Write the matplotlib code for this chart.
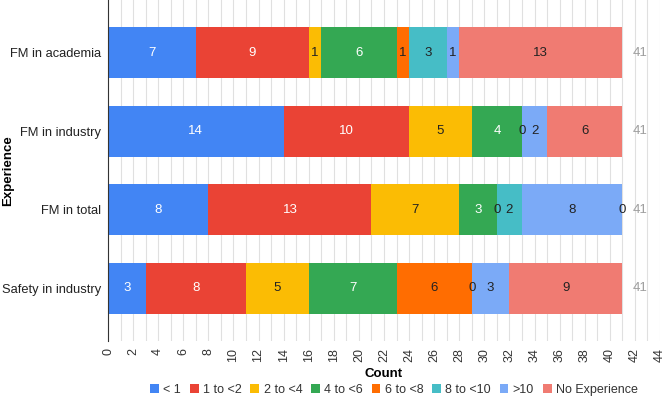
import matplotlib
matplotlib.use('Agg')
import matplotlib.pyplot as plt
import numpy as np

plt.rcParams['font.family'] = ['Liberation Sans', 'DejaVu Sans']

# data
groups = ['FM in academia', 'FM in industry', 'FM in total', 'Safety in industry']
series = ['< 1', '1 to <2', '2 to <4', '4 to <6', '6 to <8', '8 to <10', '>10', 'No Experience']
values = {
    '< 1':           [7, 14, 8, 3],
    '1 to <2':       [9, 10, 13, 8],
    '2 to <4':       [1, 5, 7, 5],
    '4 to <6':       [6, 4, 3, 7],
    '6 to <8':       [1, 0, 0, 6],
    '8 to <10':      [3, 0, 2, 0],
    '>10':           [1, 2, 8, 3],
    'No Experience': [13, 6, 0, 9],
}
colors = ['#4285F4', '#EA4335', '#FBBC04', '#34A853', '#FF6D01', '#46BDC6', '#7BAAF7', '#F07B72']
text_colors = ['white', 'white', '#222222', 'white', '#222222', '#222222', '#222222', '#222222']
# which zero-valued segments get a "0" label (series, group)
zero_labels = [('8 to <10', 1), ('6 to <8', 2), ('No Experience', 2), ('8 to <10', 3)]

fig = plt.figure(figsize=(6.64, 3.97), dpi=100)
ax = fig.add_axes([108 / 664, 56 / 397, 552 / 664, 341 / 397])

y = np.arange(len(groups))
left = np.zeros(len(groups))
for s, c, tc in zip(series, colors, text_colors):
    v = np.array(values[s], dtype=float)
    ax.barh(y, v, left=left, height=0.65, color=c, label=s, zorder=2)
    for i in range(len(groups)):
        if v[i] > 0:
            ax.text(left[i] + v[i] / 2, y[i], f'{int(v[i])}', ha='center', va='center',
                    color=tc, fontsize=9.5, zorder=3)
        elif (s, i) in zero_labels:
            ax.text(left[i], y[i], '0', ha='center', va='center', color='#222222',
                    fontsize=9.5, zorder=3)
    left += v

# totals
for i in range(len(groups)):
    ax.text(left[i] + 1.4, y[i], f'{int(left[i])}', ha='center', va='center',
            color='#9e9e9e', fontsize=9.5)

ax.set_xlim(0, 44)
ax.set_ylim(3.67, -0.67)
ax.set_xticks(np.arange(0, 45, 2))
ax.set_xticks(np.arange(0, 45, 1), minor=True)
ax.tick_params(axis='x', which='both', length=0, pad=5, labelrotation=90, labelsize=9, colors='#333333')
ax.tick_params(axis='y', length=0, pad=5, labelsize=9.3, colors='#222222')
ax.set_yticks(y)
ax.set_yticklabels(groups)
ax.grid(axis='x', which='both', color='#e0e0e0', linewidth=0.8, zorder=0)
for side in ['top', 'right', 'bottom']:
    ax.spines[side].set_visible(False)
ax.spines['left'].set_color('#333333')

ax.set_xlabel('Count', fontsize=9.5, fontweight='bold', va='center')
ax.xaxis.set_label_coords(0.5, -33 / 341)
ax.set_ylabel('Experience', fontsize=9.5, fontweight='bold', va='center')
ax.yaxis.set_label_coords(-100 / 552, 0.5)

fig.legend(loc='center', bbox_to_anchor=(394 / 664, 1 - 390 / 397), ncol=8, frameon=False,
           fontsize=9, handlelength=0.7, handleheight=0.7, handletextpad=0.35,
           columnspacing=0.7, labelcolor='#333333')

fig.savefig('out.png', dpi=100)
